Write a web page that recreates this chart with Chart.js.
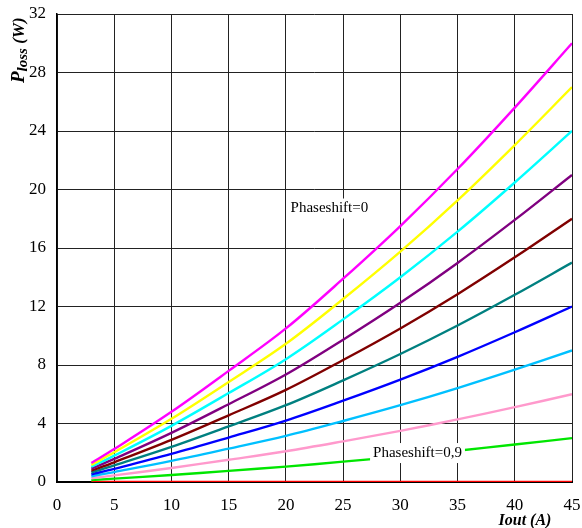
<!DOCTYPE html>
<html>
<head>
<meta charset="utf-8">
<script src="https://cdn.jsdelivr.net/npm/chart.js@4.4.0/dist/chart.umd.min.js"></script>
<style>
  html, body { margin: 0; padding: 0; background: #fff; }
  #wrap { width: 582px; height: 528px; }
</style>
</head>
<body>
<div id="wrap"><canvas id="loss_chart" width="582" height="528"></canvas></div>
<script>
// output current (A) where the curves were sampled
const iout = [3, 5, 10, 15, 20, 25, 30, 35, 40, 45];

// Ploss (W), one list per phase shift
const ps_00 = [1.3, 2.25, 4.8, 7.6, 10.5, 13.9, 17.5, 21.4, 25.6, 30.0];
const ps_01 = [1.17, 2.03, 4.32, 6.84, 9.45, 12.51, 15.75, 19.26, 23.04, 27.0];
const ps_02 = [1.04, 1.8, 3.84, 6.08, 8.4, 11.12, 14.0, 17.12, 20.48, 24.0];
const ps_03 = [0.91, 1.58, 3.36, 5.32, 7.35, 9.73, 12.25, 14.98, 17.92, 21.0];
const ps_04 = [0.78, 1.35, 2.88, 4.56, 6.3, 8.34, 10.5, 12.84, 15.36, 18.0];
const ps_05 = [0.65, 1.13, 2.4, 3.8, 5.25, 6.95, 8.75, 10.7, 12.8, 15.0];
const ps_06 = [0.52, 0.9, 1.92, 3.04, 4.2, 5.56, 7.0, 8.56, 10.24, 12.0];
const ps_07 = [0.39, 0.68, 1.44, 2.28, 3.15, 4.17, 5.25, 6.42, 7.68, 9.0];
const ps_08 = [0.26, 0.45, 0.96, 1.52, 2.1, 2.78, 3.5, 4.28, 5.12, 6.0];
const ps_09 = [0.13, 0.23, 0.48, 0.76, 1.05, 1.39, 1.75, 2.14, 2.56, 3.0];
const ps_10 = [0, 0, 0, 0, 0, 0, 0, 0, 0, 0];

const x_ticks = [0, 5, 10, 15, 20, 25, 30, 35, 40, 45];
const y_ticks = [0, 4, 8, 12, 16, 20, 24, 28, 32];

const series = [ps_00, ps_01, ps_02, ps_03, ps_04, ps_05, ps_06, ps_07, ps_08, ps_09, ps_10];
const colors = ['#ff00ff', '#ffff00', '#00ffff', '#800080', '#800000', '#008080',
                '#0000ff', '#00c0ff', '#ff99cc', '#00e600', '#ff0000'];

const serif = "'Liberation Serif', 'Times New Roman', serif";

// white-boxed labels + axis titles (with the subscript)
const annotations = {
  id: 'annotations',
  afterDatasetsDraw(chart) {
    const ctx = chart.ctx;
    const xs = chart.scales.x, ys = chart.scales.y;
    const notes = [
      { text: 'Phaseshift=0', x: 23.8, y: 18.7 },
      { text: 'Phaseshift=0,9', x: 31.5, y: 1.98 }
    ];
    ctx.save();
    ctx.font = '15px ' + serif;
    ctx.textAlign = 'center';
    ctx.textBaseline = 'middle';
    notes.forEach(n => {
      const px = xs.getPixelForValue(n.x), py = ys.getPixelForValue(n.y);
      const w = ctx.measureText(n.text).width;
      ctx.fillStyle = '#fff';
      ctx.fillRect(px - w / 2 - 3, py - 10, w + 6, 20);
      ctx.fillStyle = '#000';
      ctx.fillText(n.text, px, py);
    });

    // x title
    ctx.font = 'italic bold 16px ' + serif;
    ctx.fillText('Iout (A)', 525, 521);

    // y title, rotated
    ctx.translate(18, 83);
    ctx.rotate(-Math.PI / 2);
    ctx.textAlign = 'left';
    ctx.textBaseline = 'alphabetic';
    let cx = 0;
    ctx.font = 'italic bold 19px ' + serif;
    ctx.fillText('P', cx, 6); cx += ctx.measureText('P').width;
    ctx.font = 'italic bold 15px ' + serif;
    ctx.fillText('loss', cx, 9); cx += ctx.measureText('loss').width;
    ctx.font = 'italic bold 17px ' + serif;
    ctx.fillText(' (W)', cx, 6);
    ctx.restore();
  }
};

new Chart(document.querySelector('#loss_chart').getContext('2d'), {
  type: 'line',
  data: {
    labels: iout,
    datasets: series.map((vals, i) => ({
      label: 'ps' + i,
      data: vals.map((v, k) => ({ x: iout[k], y: v })),
      borderColor: colors[i],
      borderWidth: 2.4,
      pointRadius: 0,
      tension: 0.35,
      fill: false
    }))
  },
  plugins: [annotations],
  options: {
    responsive: false,
    animation: false,
    layout: { padding: { left: 0, right: 10, top: 14, bottom: 0 } },
    plugins: {
      legend: { display: false },
      tooltip: { enabled: false }
    },
    scales: {
      x: {
        type: 'linear',
        min: 0, max: 45,
        afterBuildTicks: s => { s.ticks = x_ticks.map(v => ({ value: v })); },
        afterFit: s => { s.height = 46; s.paddingLeft = 0; s.paddingRight = 0; },
        grid: { color: '#222', lineWidth: 1, drawTicks: false },
        border: { color: '#000', width: 2 },
        ticks: { color: '#000', padding: 13, maxRotation: 0, font: { family: serif, size: 17 } }
      },
      y: {
        type: 'linear',
        min: 0, max: 32,
        afterBuildTicks: s => { s.ticks = y_ticks.map(v => ({ value: v })); },
        afterFit: s => { s.width = 57; s.paddingTop = 0; s.paddingBottom = 0; },
        grid: { color: '#222', lineWidth: 1, drawTicks: false },
        border: { color: '#000', width: 1.5 },
        ticks: { color: '#000', padding: 11, font: { family: serif, size: 17 } }
      }
    }
  }
});
</script>
</body>
</html>
